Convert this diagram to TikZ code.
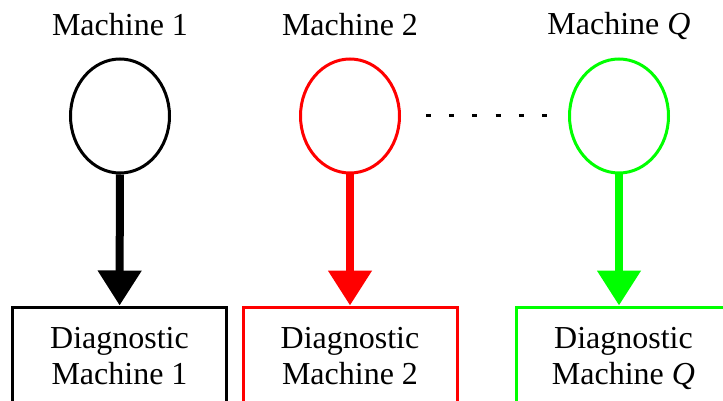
\documentclass[tikz,border=0pt]{standalone}
\usepackage{fontspec}
\setmainfont{Liberation Serif}
\usetikzlibrary{shapes.geometric,arrows.meta,positioning}
\definecolor{mred}{rgb}{1,0,0}
\definecolor{mgreen}{rgb}{0,1,0}

\begin{document}
\begin{tikzpicture}[x=0.5pt,y=-0.5pt,
  lab/.style={font=\fontsize{16}{18}\selectfont,anchor=base,inner sep=0pt},
  mach/.style={ellipse,draw,line width=1.5pt,inner sep=0pt,
    minimum width=49.5pt,minimum height=57pt},
  diag/.style={rectangle,draw,line width=1.5pt,align=center,anchor=north,
    minimum width=107pt,inner ysep=10pt,font=\fontsize{16}{18}\selectfont},
  arr/.style={line width=4pt,-{Triangle[length=17.5pt,width=21pt]}},
  dots/.style={line width=1.5pt,dash pattern=on 2.5pt off 9.1pt}]
  \useasboundingbox (0,0) rectangle (723,401);
  \clip (0,0) rectangle (723,401);
  % machines
  \node[mach] (mach1) at (120,116) {};
  \node[mach,draw=mred] (mach2) at (350,116) {};
  \node[mach,draw=mgreen] (machq) at (619,116) {};
  \node[lab] (name1) at (120,36) {Machine 1};
  \node[lab] (name2) at (350,36) {Machine 2};
  \node[lab] (nameq) at (619,35) {Machine \textit{Q}};
  % diagnostics
  \node[diag] (diag1) at (119.5,305.5) {Diagnostic\\Machine 1};
  \node[diag,draw=mred] (diag2) at (350,305.5) {Diagnostic\\Machine 2};
  \node[diag,draw=mgreen] (diagq) at (623.5,305.5) {Diagnostic\\Machine \textit{Q}};
  \draw[arr] (mach1) -- (diag1);
  \draw[arr,mred] (mach2) -- (diag2);
  \draw[arr,mgreen] (machq) -- (machq |- diagq.north);
  \draw[dots,shorten <=12.5pt,shorten >=10.5pt] (mach2) -- (machq);
\end{tikzpicture}
\end{document}
